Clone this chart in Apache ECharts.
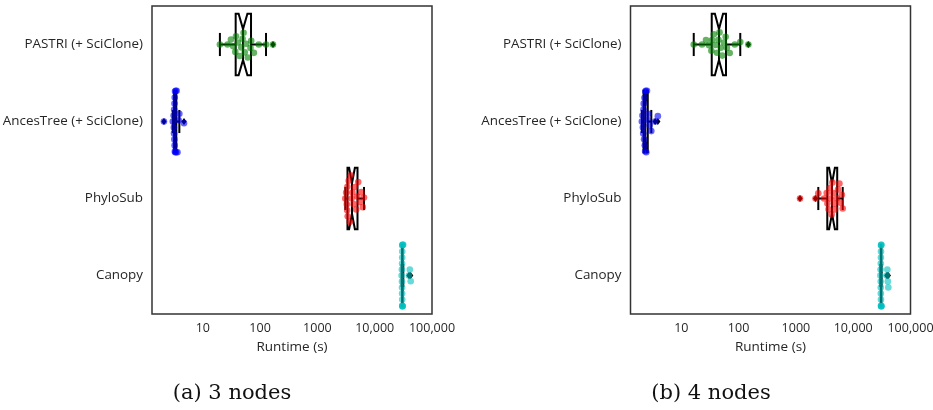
<!DOCTYPE html>
<html><head><meta charset="utf-8">
<script src="https://cdn.jsdelivr.net/npm/echarts@6/dist/echarts.min.js"></script>
<style>html,body{margin:0;padding:0;background:#fff}#c{width:933px;height:410px}</style>
</head><body><div id="c"></div>
<script>
// ---------- data ----------
var categories = ['PASTRI (+ SciClone)', 'AncesTree (+ SciClone)', 'PhyloSub', 'Canopy'];
var tickValues = [10, 100, 1000, 10000, 100000];
var tickLabels = ['10', '100', '1000', '10,000', '100,000'];
var captions = ['(a) 3 nodes', '(b) 4 nodes'];
var xTitle = 'Runtime (s)';

// runtimes (s), panel (a) 3 nodes
var pastriA = [19.9, 27, 31, 34, 37, 38, 41, 44, 47, 49.5, 51.5, 54, 57, 61, 68, 70, 78, 95, 127, 168];
var ancestreeA = [2.1, 3.0, 3.1, 3.13, 3.15, 3.17, 3.19, 3.21, 3.23, 3.24, 3.26, 3.28, 3.31, 3.36, 3.42, 3.5, 3.62, 3.8, 3.9, 4.7];
var phylosubA = [3070, 3180, 3260, 3310, 3340, 3380, 3520, 3680, 3830, 3950, 4090, 4280, 4500, 4750, 4960, 5160, 5500, 5850, 6200, 6500];
var canopyA = [29500, 29800, 29950, 30000, 30050, 30100, 30200, 30250, 30300, 30300, 30300, 30400, 30500, 30600, 30700, 30750, 31500, 39500, 41000, 42500];

// runtimes (s), panel (b) 4 nodes
var pastriB = [16.5, 23, 27, 30.5, 33.5, 34.5, 37, 39.5, 42, 44.5, 46.5, 49, 52, 55.5, 59.5, 62.5, 70, 86, 107, 148];
var ancestreeB = [2.05, 2.1, 2.14, 2.17, 2.19, 2.21, 2.24, 2.28, 2.31, 2.34, 2.36, 2.4, 2.45, 2.52, 2.58, 2.66, 2.8, 3.0, 3.5, 3.9];
var phylosubB = [1180, 2200, 2460, 3100, 3450, 3550, 3720, 3900, 4060, 4200, 4340, 4480, 4640, 4820, 5200, 5440, 5750, 6050, 6350, 6560];
var canopyB = [29800, 30000, 30200, 30250, 30300, 30350, 30450, 30500, 30550, 30600, 30600, 30650, 30750, 30900, 31050, 31200, 38500, 39400, 40200, 41000];

// box-plot statistics (order = categories)
var whiskerLowA  = [19.9, 3.0, 3070, 29500];
var q1A          = [37.5, 3.16, 3350, 30080];
var notchLowA    = [42.2, 3.17, 3580, 30150];
var medianA      = [50.4, 3.25, 4020, 30300];
var notchHighA   = [60.1, 3.33, 4510, 30500];
var q3A          = [69.5, 3.45, 5010, 30710];
var whiskerHighA = [127, 3.9, 6500, 31500];
var outliersA    = [[168], [2.1, 4.7], [], [39500, 41000, 42500]];

var whiskerLowB  = [16.5, 2.05, 2460, 29800];
var q1B          = [34, 2.2, 3530, 30340];
var notchLowB    = [38.6, 2.24, 3800, 30420];
var medianB      = [45.5, 2.35, 4270, 30600];
var notchHighB   = [53.6, 2.47, 4790, 30820];
var q3B          = [60.3, 2.6, 5260, 31090];
var whiskerHighB = [107, 3.0, 6560, 31200];
var outliersB    = [[148], [3.5, 3.9], [1180, 2200], [38500, 39400, 40200, 41000]];

// ---------- styling / layout ----------
var pointColors = ['#008000', '#0000ff', '#ff0000', '#00bfbf'];
var SANS = '"Open Sans", "DejaVu Sans", sans-serif';
var SERIF = '"DejaVu Serif", serif';

function swarmLayout(vals, cat, api, d, half) {
  var pts = vals.map(function (v, i) { var p = api.coord([v, cat]); return { i: i, x: p[0], y0: p[1], o: 0 }; });
  var order = pts.slice().sort(function (a, b) { return a.x - b.x; });
  var placed = [];
  order.forEach(function (p) {
    var cands = [0];
    placed.forEach(function (q) {
      var dx = p.x - q.x;
      if (Math.abs(dx) < d) {
        var dy = Math.sqrt(d * d - dx * dx);
        cands.push(q.o + dy, q.o - dy);
      }
    });
    cands.sort(function (a, b) { return (Math.abs(a) - Math.abs(b)) || (a - b); });
    var chosen = cands[0];
    for (var k = 0; k < cands.length; k++) {
      var c = cands[k], ok = true;
      for (var j = 0; j < placed.length; j++) {
        var q = placed[j], dx = p.x - q.x, dy = c - q.o;
        if (dx * dx + dy * dy < d * d - 1e-6) { ok = false; break; }
      }
      if (ok) { chosen = c; break; }
    }
    p.o = chosen;
    placed.push(p);
  });
  return pts.map(function (p) {
    var o = Math.max(-half, Math.min(half, p.o));
    return [p.x, p.y0 + o];
  });
}

function bandSize(api) {
  return Math.abs(api.coord([10, 1])[1] - api.coord([10, 0])[1]);
}

function makeSwarmSeries(vals, cat, color, gi) {
  var cache = null;
  return {
    type: 'custom', xAxisIndex: gi, yAxisIndex: gi, coordinateSystem: 'cartesian2d',
    data: vals.map(function (v) { return [v, cat]; }),
    encode: { x: 0, y: 1 }, z: 5, silent: true, animation: false,
    renderItem: function (params, api) {
      var ctx = params.context || {};
      if (!ctx.pos) {
        if (params.dataIndex === 0 || !cache) cache = swarmLayout(vals, cat, api, 6, bandSize(api) * 0.4);
        ctx.pos = cache;
      }
      var p = ctx.pos[params.dataIndex];
      return { type: 'circle', shape: { cx: p[0], cy: p[1], r: 3.3 }, style: { fill: color, opacity: 0.6 } };
    }
  };
}

function makeBoxSeries(st, gi) {
  return {
    type: 'custom', xAxisIndex: gi, yAxisIndex: gi, coordinateSystem: 'cartesian2d',
    data: categories.map(function (c, i) { return [st.med[i], i]; }),
    encode: { x: 0, y: 1 }, z: 2, silent: true, animation: false,
    renderItem: function (params, api) {
      var i = params.dataIndex;
      var band = bandSize(api);
      var cy = api.coord([10, i])[1];
      var X = function (v) { return api.coord([v, i])[0]; };
      var w = band * 0.4, cw = band * 0.15, mw = w * 0.5;
      var xlo = X(st.wlo[i]), xq1 = X(st.q1[i]), xnl = X(st.nlo[i]), xm = X(st.med[i]),
          xnh = X(st.nhi[i]), xq3 = X(st.q3[i]), xhi = X(st.whi[i]);
      var ls = { stroke: '#000', lineWidth: 2, fill: null };
      var kids = [
        { type: 'line', shape: { x1: xlo, y1: cy, x2: xq1, y2: cy }, style: ls },
        { type: 'line', shape: { x1: xq3, y1: cy, x2: xhi, y2: cy }, style: ls },
        { type: 'line', shape: { x1: xlo, y1: cy - cw, x2: xlo, y2: cy + cw }, style: ls },
        { type: 'line', shape: { x1: xhi, y1: cy - cw, x2: xhi, y2: cy + cw }, style: ls },
        { type: 'polygon', shape: { points: [[xq1, cy - w], [xnl, cy - w], [xm, cy - mw], [xnh, cy - w], [xq3, cy - w], [xq3, cy + w], [xnh, cy + w], [xm, cy + mw], [xnl, cy + w], [xq1, cy + w]] },
          style: { stroke: '#000', lineWidth: 2, fill: 'rgba(255,255,255,0)' } },
        { type: 'line', shape: { x1: xm, y1: cy - mw, x2: xm, y2: cy + mw }, style: ls }
      ];
      st.out[i].forEach(function (v) {
        var x = X(v);
        kids.push({ type: 'polygon', shape: { points: [[x, cy - 3.5], [x + 2.6, cy], [x, cy + 3.5], [x - 2.6, cy]] }, style: { fill: '#000' } });
      });
      return { type: 'group', children: kids };
    }
  };
}

var statsA = { wlo: whiskerLowA, q1: q1A, nlo: notchLowA, med: medianA, nhi: notchHighA, q3: q3A, whi: whiskerHighA, out: outliersA };
var statsB = { wlo: whiskerLowB, q1: q1B, nlo: notchLowB, med: medianB, nhi: notchHighB, q3: q3B, whi: whiskerHighB, out: outliersB };
var panelValues = [[pastriA, ancestreeA, phylosubA, canopyA], [pastriB, ancestreeB, phylosubB, canopyB]];

function tickFmt(v) {
  for (var i = 0; i < tickValues.length; i++) {
    if (Math.abs(v - tickValues[i]) / tickValues[i] < 1e-6) return tickLabels[i];
  }
  return '';
}

var lefts = [152, 630.5];
var grids = [], xAxes = [], yAxes = [], series = [];
[0, 1].forEach(function (g) {
  grids.push({ left: lefts[g], top: 6, width: 280, height: 308, show: true, borderColor: '#333', borderWidth: 1.5, backgroundColor: '#fff', containLabel: false, outerBoundsMode: 'none' });
  xAxes.push({
    type: 'log', logBase: 10, gridIndex: g, min: 1.3, max: 100000,
    splitLine: { show: false }, axisTick: { show: false }, axisLine: { show: false },
    axisLabel: { formatter: tickFmt, fontFamily: SANS, fontSize: 12.5, color: '#262626', margin: 8, showMinLabel: true, showMaxLabel: true },
    name: xTitle, nameLocation: 'middle', nameGap: 23,
    nameTextStyle: { fontFamily: SANS, fontSize: 13.5, color: '#262626' }
  });
  yAxes.push({
    type: 'category', gridIndex: g, data: categories, inverse: true,
    axisTick: { show: false }, axisLine: { show: false }, splitLine: { show: false },
    axisLabel: { fontFamily: SANS, fontSize: 13.4, color: '#262626', margin: 9 }
  });
  series.push(makeBoxSeries(g === 0 ? statsA : statsB, g));
  panelValues[g].forEach(function (vals, c) {
    series.push(makeSwarmSeries(vals, c, pointColors[c], g));
  });
});

var chart = echarts.init(document.getElementById('c'), null, { renderer: 'canvas' });
chart.setOption({
  animation: false,
  backgroundColor: '#fff',
  grid: grids, xAxis: xAxes, yAxis: yAxes, series: series,
  graphic: [
    { type: 'text', x: 232, y: 394, style: { text: captions[0], font: '21px ' + SERIF, fill: '#111', align: 'center', verticalAlign: 'middle', textAlign: 'center', textVerticalAlign: 'middle' } },
    { type: 'text', x: 711, y: 394, style: { text: captions[1], font: '21px ' + SERIF, fill: '#111', align: 'center', verticalAlign: 'middle', textAlign: 'center', textVerticalAlign: 'middle' } }
  ]
});
</script></body></html>
